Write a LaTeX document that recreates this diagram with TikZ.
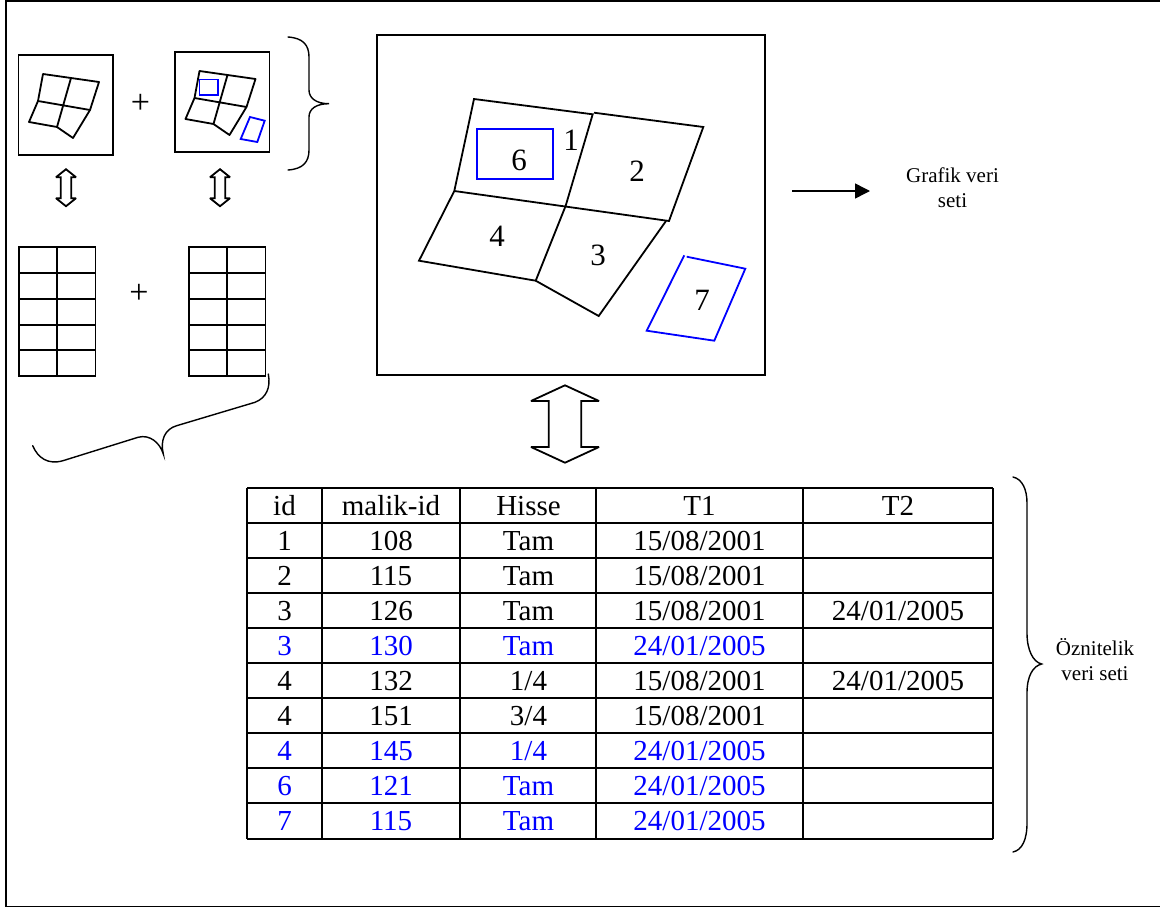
\documentclass[tikz,border=0pt]{standalone}
\usepackage{fontspec}
\setmainfont{Liberation Serif}
\usetikzlibrary{arrows.meta}
\newcommand\dblarrow[6]{\draw[ln,miter limit=2] (#1,#2-#3) -- (#1+#5,#2-#3+#4) -- (#1+#6,#2-#3+#4) -- (#1+#6,#2+#3-#4) -- (#1+#5,#2+#3-#4) -- (#1,#2+#3) -- (#1-#5,#2+#3-#4) -- (#1-#6,#2+#3-#4) -- (#1-#6,#2-#3+#4) -- (#1-#5,#2-#3+#4) -- cycle;}
\begin{document}
\begin{tikzpicture}[x=1pt,y=-1pt,
 ln/.style={draw=black,line width=1.8pt},
 bl/.style={draw=blue,line width=1.8pt},
 br/.style={draw=black,line width=1.4pt,line cap=round},
 num/.style={font=\fontsize{31}{31}\selectfont,inner sep=0pt},
 pls/.style={font=\fontsize{34}{34}\selectfont,inner sep=0pt},
 cell/.style={font=\fontsize{29}{29}\selectfont,inner sep=0pt,anchor=base},
 lab/.style={font=\fontsize{21}{25}\selectfont,align=center,inner sep=0pt}]
\useasboundingbox (0,0) rectangle (1160,908);
\draw[ln] (1160,1.3) -- (6,1.3) -- (6,906.5) -- (1160,906.5);
% small maps
\foreach \dx/\dy/\n in {0/0/a,156.5/-3/b}{
 \begin{scope}[shift={(\dx,\dy)}]
 \node[ln,minimum width=94.5pt,minimum height=100pt,inner sep=0pt] (map\n) at (65.75,105) {};
 \draw[ln,line join=round] (43,74) -- (99,82) -- (90,110) -- (73,138) -- (57,127) -- (29,122) -- (38,101) -- cycle;
 \draw[ln] (71,78) -- (57,127) (38,101) -- (90,110);
 \end{scope}}
\draw[bl] (199.5,79.5) rectangle (218.3,94.7);
\draw[bl] (250,117) -- (264.7,120.7) -- (257.3,142) -- (240.7,139) -- cycle;
\node[pls] (plusa) at (140.5,104) {+};
\node[pls] (plusb) at (139,294) {+};
\dblarrow{66}{187.7}{18.5}{8}{10}{5.3}
\dblarrow{220}{187.7}{18.5}{8}{10}{5.3}
% small tables
\foreach \x in {19,189}{
 \draw[ln] (\x,246.7) rectangle (\x+76.5,376);
 \draw[ln] (\x+38,246.7) -- (\x+38,376);
 \foreach \y in {273,299,325,350} \draw[ln] (\x,\y) -- (\x+76.5,\y);}
% braces
\draw[br] (288,37) .. controls (303,38) and (309,45) .. (309,57) -- (309,90) .. controls (309,98) and (316,103.7) .. (329,103.7) .. controls (316,103.7) and (309,109) .. (309,117) -- (309,150) .. controls (309,162) and (303,169) .. (288,170);
\draw[br] (32.7,445.7) .. controls (38,458) and (48,465) .. (63,460.7) -- (138,437.3) .. controls (150,434) and (160,443) .. (163.3,454) .. controls (160,440) and (165,429) .. (176.7,425.7) -- (255,402.3) .. controls (266,398) and (271,388) .. (268.3,374);
\draw[br] (1013,477) .. controls (1022,479) and (1027,489) .. (1027,503) -- (1027,633) .. controls (1027,650) and (1033,662) .. (1041.7,664) .. controls (1033,666) and (1027,676) .. (1027,693) -- (1027,823) .. controls (1027,840) and (1022,850) .. (1013,852);
% big map
\node[ln,minimum width=388.3pt,minimum height=340.3pt,inner sep=0pt] (bigmap) at (570.85,204.85) {};
\draw[ln] (474,99) -- (592.7,114.3) -- (565.7,205.7) -- (535.7,280.7) -- (419,260.7) -- (454.3,191) -- cycle;
\draw[ln] (594,112.7) -- (703.3,127) -- (669,221) -- (454.3,191);
\draw[ln] (535.7,280.7) -- (598.7,316) -- (666,221);
\draw[bl] (476.7,129) rectangle (553.3,179);
\draw[bl] (684.3,255.3) -- (646.7,330.7) -- (714.3,340.7) -- (745.3,268.7) -- (686.7,256.7);
\node[num] (p1) at (571,140) {1};
\node[num] (p2) at (637,171) {2};
\node[num] (p3) at (598,255) {3};
\node[num] (p4) at (497,236) {4};
\node[num] (p6) at (519,160) {6};
\node[num] (p7) at (702,300) {7};
\dblarrow{565}{424}{38.7}{15.7}{34}{16.2}
% graphic data set
\coordinate (gs) at (792,191);
\coordinate (ge) at (870,191);
\draw[draw=black,line width=1.5pt,-{Triangle[length=15pt,width=15pt]}] (gs) -- (ge);
\node[lab] (grafik) at (952.5,188) {Grafik veri\\seti};
% attribute table
\foreach \x in {247,322,460,596,803,993} \draw[ln] (\x,488) -- (\x,839);
\foreach \y in {488,523,558,593,628,663,698,733,768,803,839} \draw[ln] (247,\y) -- (993,\y);
\foreach \r/\c/\i/\m/\h/\d in {0/black/id/malik-id/Hisse/T1,
 1/black/1/108/Tam/{15/08/2001},2/black/2/115/Tam/{15/08/2001},3/black/3/126/Tam/{15/08/2001},
 4/blue/3/130/Tam/{24/01/2005},5/black/4/132/{1/4}/{15/08/2001},6/black/4/151/{3/4}/{15/08/2001},
 7/blue/4/145/{1/4}/{24/01/2005},8/blue/6/121/Tam/{24/01/2005},9/blue/7/115/Tam/{24/01/2005}}{
 \node[cell,text=\c] (id\r) at (284.5,515.7+35*\r) {\i};
 \node[cell,text=\c] (mal\r) at (391,515.7+35*\r) {\m};
 \node[cell,text=\c] (his\r) at (528.5,515.7+35*\r) {\h};
 \node[cell,text=\c] (tb\r) at (699.5,515.7+35*\r) {\d};}
\node[cell] (te0) at (898,515.7) {T2};
\node[cell] (te3) at (898,620.7) {24/01/2005};
\node[cell] (te5) at (898,690.7) {24/01/2005};
\node[lab] (oznitelik) at (1095,660) {Öznitelik\\veri seti};
\end{tikzpicture}
\end{document}
